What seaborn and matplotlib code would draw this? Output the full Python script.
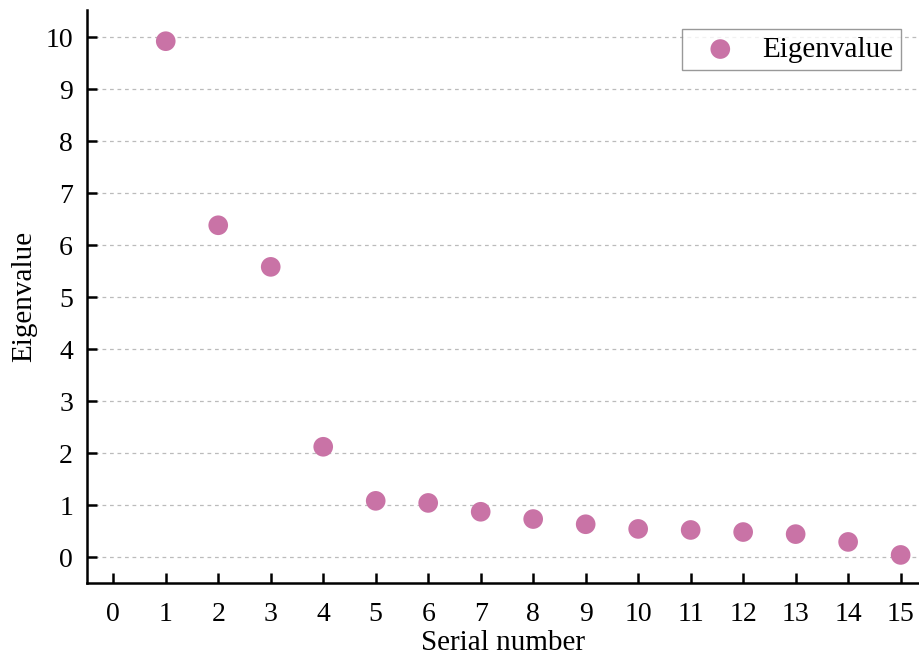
import matplotlib
matplotlib.use("Agg")
import matplotlib.pyplot as plt
import seaborn as sns
import pandas as pd

serial = list(range(1, 16))
eigenvalues = [9.92, 6.38, 5.58, 2.12, 1.08, 1.04, 0.87, 0.73, 0.63, 0.54, 0.52, 0.48, 0.44, 0.29, 0.04]
x_ticks = list(range(0, 16))
y_ticks = list(range(0, 11))

df = pd.DataFrame({"Serial number": serial, "Eigenvalue": eigenvalues})

sns.set_theme(style="white")
plt.rcParams['font.family'] = ['Liberation Serif', 'DejaVu Serif']
plt.rcParams['text.color'] = 'black'
plt.rcParams['axes.labelcolor'] = 'black'

fig = plt.figure(figsize=(9.19, 6.59), dpi=100)
ax = fig.add_axes([87/919, 1 - 583/659, (919 - 87)/919, (583 - 10)/659])

sns.scatterplot(data=df, x="Serial number", y="Eigenvalue", ax=ax,
                color="#c973a6", s=200, edgecolor="none", label="Eigenvalue", zorder=3)

ax.set_xlim(-0.5, 15.35)
ax.set_ylim(-0.5, 10.52)
ax.set_xticks(x_ticks)
ax.set_yticks(y_ticks)
ax.yaxis.grid(True, linestyle=(0, (3, 3)), color="#bbbbbb", linewidth=0.9)
ax.xaxis.grid(False)
for s in ["top", "right"]:
    ax.spines[s].set_visible(False)
for s in ["left", "bottom"]:
    ax.spines[s].set_color("black")
    ax.spines[s].set_linewidth(1.8)
ax.tick_params(direction="in", length=7, width=1.8, colors="black", labelsize=20,
               bottom=True, left=True)
ax.tick_params(axis="x", pad=14)
ax.tick_params(axis="y", pad=10)
ax.set_xlabel("Serial number", fontsize=21, labelpad=2, color="black")
ax.set_ylabel("Eigenvalue", fontsize=21, labelpad=6, color="black")

leg = ax.legend(loc="upper right", bbox_to_anchor=(901/919, 1 - 29/659), bbox_transform=fig.transFigure,
                fontsize=21, frameon=True, fancybox=False, borderpad=0.25, handletextpad=0.4,
                handlelength=2.1, borderaxespad=0, markerscale=1.0)
leg.get_frame().set_edgecolor("#808080")
leg.get_frame().set_linewidth(1.0)
for t in leg.get_texts():
    t.set_color("black")

fig.savefig("out.png", dpi=100)
